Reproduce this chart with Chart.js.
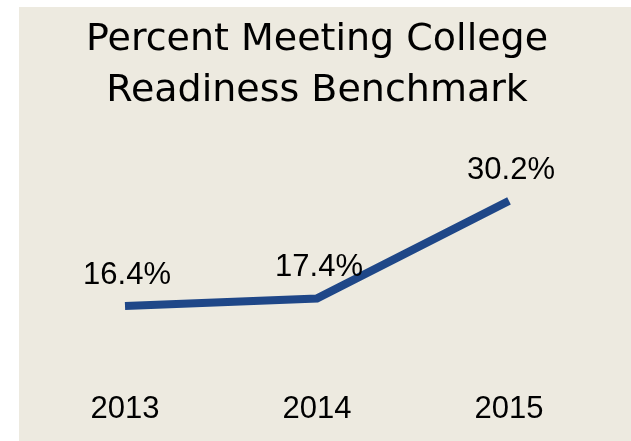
<!DOCTYPE html>
<html>
<head>
<meta charset="utf-8">
<script src="https://cdn.jsdelivr.net/npm/chart.js@4"></script>
<style>
  html, body { margin: 0; padding: 0; background: #ffffff; }
  #wrap {
    position: absolute; left: 19px; top: 7px;
    width: 612px; height: 434px;
    background: #edeae0;
  }
</style>
</head>
<body>
<div id="wrap"><canvas id="myChart" width="612" height="434"></canvas></div>
<script>
const years = ['2013', '2014', '2015'];
const percentMeeting = [16.4, 17.4, 30.2];
const pointLabels = ['16.4%', '17.4%', '30.2%'];

// etiquetas de valor encima de cada punto
const valueLabels = {
    id: 'valueLabels',
    afterDatasetsDraw(chart) {
        const ctx = chart.ctx;
        const meta = chart.getDatasetMeta(0);
        ctx.save();
        ctx.font = '31px "Liberation Sans", Arial, sans-serif';
        ctx.fillStyle = '#000000';
        ctx.textAlign = 'center';
        ctx.textBaseline = 'alphabetic';
        meta.data.forEach(function (pt, i) {
            ctx.fillText(pointLabels[i], pt.x + 2, pt.y - 22);
        });
        ctx.restore();
    }
};

const ctxChart = document.getElementById('myChart').getContext('2d');

let readinessChart = new Chart(ctxChart, {
    type: 'line',
    data: {
        labels: years,
        datasets: [{
            label: 'Percent Meeting',
            data: percentMeeting,
            borderColor: '#1f4788',
            borderWidth: 8,
            tension: 0,
            pointRadius: 0,
            fill: false
        }]
    },
    options: {
        responsive: false,
        animation: false,
        layout: {
            padding: { left: 10, right: 26, top: 0, bottom: 1 }
        },
        plugins: {
            legend: { display: false },
            tooltip: { enabled: false },
            title: {
                display: true,
                text: ['Percent Meeting College', 'Readiness Benchmark'],
                color: '#000000',
                font: { family: '"DejaVu Sans", sans-serif', size: 38, weight: 'normal', lineHeight: 1.34 },
                padding: { top: 8, bottom: 30 }
            }
        },
        scales: {
            x: {
                offset: true,
                grid: { display: false },
                border: { display: false },
                ticks: {
                    color: '#000000',
                    padding: 12,
                    font: { family: '"Liberation Sans", Arial, sans-serif', size: 31 }
                }
            },
            y: {
                display: false,
                min: 7.9,
                max: 37.3
            }
        }
    },
    plugins: [valueLabels]
});
</script>
</body>
</html>
